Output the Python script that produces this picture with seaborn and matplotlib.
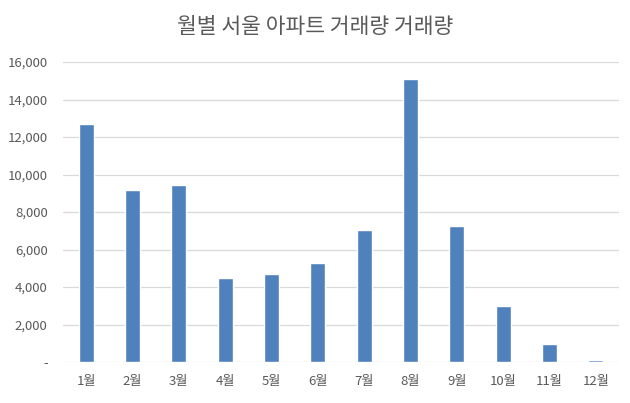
import matplotlib
matplotlib.use("Agg")
import matplotlib.pyplot as plt
import seaborn as sns
import pandas as pd
from matplotlib.ticker import FuncFormatter

months = ["1월", "2월", "3월", "4월", "5월", "6월", "7월", "8월", "9월", "10월", "11월", "12월"]
values = [12700, 9200, 9450, 4480, 4720, 5280, 7050, 15100, 7250, 3000, 950, 100]
yticks = [0, 2000, 4000, 6000, 8000, 10000, 12000, 14000, 16000]
title = "월별 서울 아파트 거래량 거래량"

sns.set_theme(style="white")
plt.rcParams['font.family'] = ['Noto Sans CJK KR', 'DejaVu Sans']

df = pd.DataFrame({"month": months, "value": values})

fig = plt.figure(figsize=(6.3, 4.03), dpi=100)
ax = fig.add_axes([63/630, 1 - 362/403, (619 - 63)/630, 300/403])

sns.barplot(data=df, x="month", y="value", color="#4F81BD", width=0.32,
            saturation=1, ax=ax)
for p in ax.patches:
    p.set_zorder(3)

ax.set_axisbelow(True)
ax.set_ylim(0, 16000)
ax.set_xlim(-0.5, len(months) - 0.5)
ax.set_yticks(yticks)
ax.yaxis.set_major_formatter(FuncFormatter(lambda v, p: "-" if v == 0 else f"{int(v):,}"))
ax.grid(axis="y", color="#D9D9D9", linewidth=0.9, zorder=0)
ax.grid(axis="x", visible=False)
for s in ax.spines.values():
    s.set_visible(False)
ax.set_xlabel("")
ax.set_ylabel("")
ax.tick_params(axis="y", length=0, pad=11, labelsize=9.5, labelcolor="#595959")
ax.tick_params(axis="x", length=0, pad=9, labelsize=9.5, labelcolor="#595959")

fig.text(0.5, 1 - 27/403, title, ha="center", va="center", fontsize=15.5, color="#595959")

fig.savefig("out.png", dpi=100, facecolor="white")
